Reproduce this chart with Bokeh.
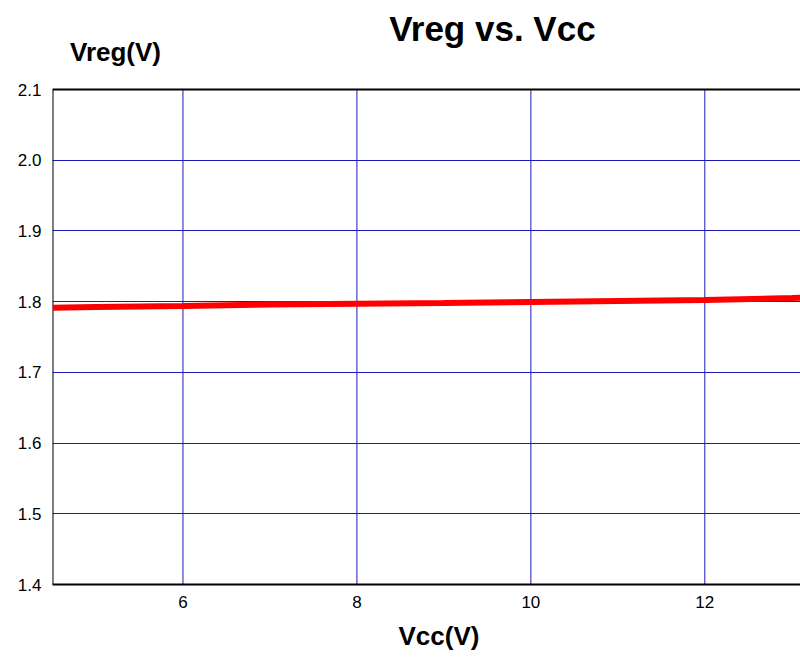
from bokeh.plotting import figure
from bokeh.models import Title, Label, Span, FixedTicker, Range1d, PrintfTickFormatter
from bokeh.embed import file_html
from bokeh.resources import INLINE

vcc = [4.5, 5.0, 6.0, 7.0, 8.0, 9.0, 10.0, 11.0, 12.0, 13.0, 13.2]
vreg = [1.7915, 1.7925, 1.794, 1.796, 1.797, 1.798, 1.7995, 1.801, 1.8025, 1.805, 1.806]
x_ticks = [6, 8, 10, 12]
y_ticks = [1.4, 1.5, 1.6, 1.7, 1.8, 1.9, 2.0, 2.1]
title_text = "Vreg vs. Vcc"
x_label = "Vcc(V)"
y_label = "Vreg(V)"

FONT = "Liberation Sans"
GRID = "#1a1ab8"
X_MIN, X_MAX = 4.5, 13.1
Y_MIN, Y_MAX = y_ticks[0], y_ticks[-1]
Y_TOP = 2.2259  # extra room above plot area for the headings

p = figure(width=800, height=659, output_backend="svg", toolbar_location=None,
           x_range=Range1d(X_MIN, X_MAX), y_range=Range1d(Y_MIN, Y_TOP),
           min_border_left=52, min_border_right=0, min_border_top=0, min_border_bottom=75)
p.title.visible = False
p.outline_line_color = None
p.background_fill_color = "white"
p.border_fill_color = "white"

for ax in (p.xaxis[0], p.yaxis[0]):
    ax.axis_line_color = "black"
    ax.axis_line_width = 2
    ax.major_tick_in = 0
    ax.major_tick_out = 0
    ax.minor_tick_in = 0
    ax.minor_tick_out = 0
    ax.major_label_text_font = FONT
    ax.major_label_text_font_size = "17px"
    ax.major_label_text_color = "black"
    ax.major_label_standoff = 11
p.yaxis.axis_line_color = None

p.xaxis.ticker = FixedTicker(ticks=x_ticks)
p.yaxis.ticker = FixedTicker(ticks=y_ticks)
p.yaxis.formatter = PrintfTickFormatter(format="%.1f")

p.xgrid.visible = False
p.ygrid.ticker = FixedTicker(ticks=y_ticks)
p.ygrid.grid_line_color = GRID
p.ygrid.grid_line_width = 1

# vertical grid lines limited to the plot area
p.segment(x0=x_ticks, y0=[Y_MIN] * len(x_ticks), x1=x_ticks, y1=[Y_MAX] * len(x_ticks),
          line_color=GRID, line_width=1)

# plot area border: top and left
p.segment(x0=[X_MIN], y0=[Y_MAX], x1=[X_MAX], y1=[Y_MAX], line_color="black", line_width=2)
p.segment(x0=[X_MIN], y0=[Y_MIN], x1=[X_MIN], y1=[Y_MAX], line_color="black", line_width=2)

p.line(vcc, vreg, line_color="red", line_width=6)

p.add_layout(Label(x=440, y=556, x_units="screen", y_units="screen", text=title_text,
                   text_font=FONT, text_font_size="35px", text_font_style="bold",
                   text_align="center", text_baseline="middle", text_color="black"))
p.add_layout(Label(x=63, y=533, x_units="screen", y_units="screen", text=y_label,
                   text_font=FONT, text_font_size="26px", text_font_style="bold",
                   text_align="center", text_baseline="middle", text_color="black"))

t_x = Title(text=x_label, align="left", offset=346, standoff=17,
            text_font=FONT, text_font_size="26px", text_font_style="bold", text_color="black")
p.add_layout(t_x, "below")

open("out.html", "w").write(file_html(p, INLINE))
